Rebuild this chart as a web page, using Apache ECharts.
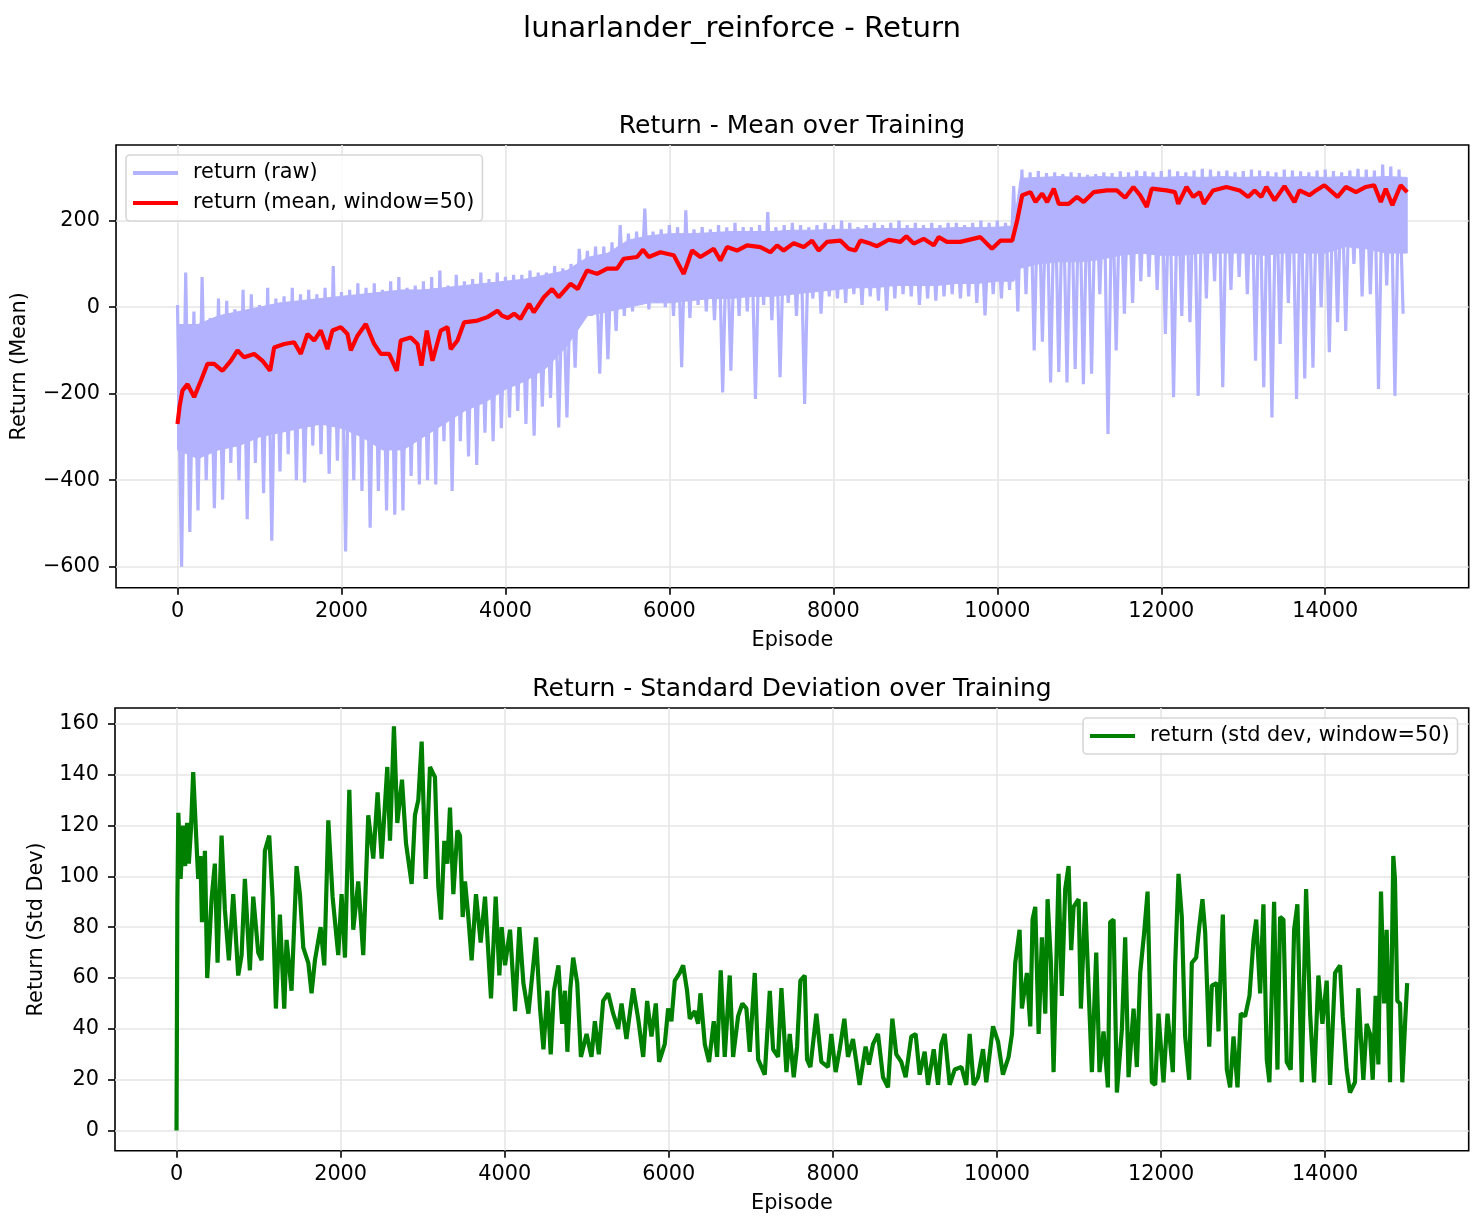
<!DOCTYPE html>
<html>
<head>
<meta charset="utf-8">
<title>lunarlander_reinforce - Return</title>
<script src="https://cdn.jsdelivr.net/npm/echarts@6.0.0/dist/echarts.min.js"></script>
<style>
    html, body { margin: 0; padding: 0; background: #fff; }
    #main { width: 1484px; height: 1229px; }
</style>
</head>
<body>
<div id="main"></div>
<script>
// raw return: per 100-episode bin, the top and bottom of the noise band
var rawStep = 100;
var rawHigh = [
    5, 80, -10, 70, -25, 20, 15, -5, 40, 30,
    5, 45, 20, 25, 45, 30, 40, 30, 45, 95,
    35, 40, 55, 45, 55, 40, 60, 70, 45, 50,
    60, 70, 85, 50, 75, 60, 65, 80, 65, 80,
    70, 75, 75, 85, 80, 80, 95, 90, 100, 135,
    130, 140, 140, 150, 190, 170, 175, 228, 175, 180,
    190, 185, 224, 180, 185, 180, 190, 185, 195, 185,
    185, 190, 220, 185, 190, 195, 190, 185, 190, 195,
    190, 200, 195, 185, 190, 195, 190, 195, 200, 190,
    195, 190, 195, 190, 195, 195, 190, 195, 200, 195,
    200, 195, 280, 318, 312, 315, 310, 312, 308, 312,
    310, 306, 308, 312, 310, 314, 312, 316, 314, 312,
    315, 318, 314, 312, 316, 320, 318, 314, 316, 312,
    315, 318, 316, 314, 312, 318, 316, 314, 312, 316,
    318, 315, 312, 316, 320, 318, 316, 330, 325, 318
];
var rawLow = [
    -600, -520, -470, -400, -465, -445, -360, -400, -490, -360,
    -430, -540, -380, -340, -400, -405, -320, -340, -385, -355,
    -565, -400, -425, -510, -425, -470, -480, -470, -390, -410,
    -400, -410, -310, -425, -310, -345, -365, -290, -310, -280,
    -255, -240, -270, -297, -230, -210, -278, -255, -140, -10,
    -20, -154, -120, -55, -20, -10, 5, -5, 10, 0,
    -20, -139, -25, 5, -10, -30, -197, -147, -20, -10,
    -212, 5, -30, -162, 10, -20, -224, 20, -15, 25,
    20, 10, 30, 5, 25, 15, -8, 20, 30, 25,
    5, 20, 15, 25, 30, 20, 25, 10, -19, 30,
    20, 40, -10, 30, -100, -80, -174, -150, -174, -143,
    -178, -154, 30, -293, -100, -15, 10, 60, 70, 40,
    -62, -208, -20, -35, -205, 20, 60, -185, 40, 70,
    30, -124, -185, -255, -85, 10, -212, -165, -140, 0,
    -104, -35, -55, 100, 25, 30, -189, 50, -205, -15
];

// dense core of the raw band (where the raw line is solid)
var coreEpisodes = [
    0, 250, 500, 750, 1000, 1250, 1500, 1750, 2000, 2250,
    2500, 2750, 3000, 3250, 3500, 3750, 4000, 4250, 4500, 4750,
    5000, 5250, 5500, 5750, 6000, 6250, 6500, 6750, 7000, 7250,
    7500, 7750, 8000, 8250, 8500, 8750, 9000, 9250, 9500, 9750,
    10000, 10200, 10280, 10500, 10750, 11000, 11250, 11500, 11750, 12000,
    12250, 12500, 12750, 13000, 13250, 13500, 13750, 14000, 14250, 14500,
    14750, 15000
];
var coreHigh = [
    -40, -40, -20, -10, 0, 10, 15, 20, 25, 30,
    35, 40, 40, 45, 50, 55, 60, 65, 75, 85,
    115, 125, 155, 165, 170, 170, 172, 175, 175, 175,
    178, 178, 180, 180, 182, 182, 182, 182, 184, 184,
    185, 188, 298, 300, 302, 300, 302, 300, 302, 300,
    302, 300, 302, 300, 302, 300, 302, 300, 302, 300,
    302, 300
];
var coreLow = [
    -330, -350, -330, -320, -300, -290, -280, -270, -280, -300,
    -330, -330, -300, -270, -240, -220, -190, -170, -140, -90,
    -20, -10, 0, 10, 10, 15, 20, 20, 25, 25,
    30, 35, 40, 45, 45, 50, 50, 50, 55, 55,
    60, 60, 90, 100, 105, 105, 110, 120, 125, 120,
    120, 125, 125, 125, 120, 125, 125, 125, 140, 135,
    125, 125
];

// rolling mean (window=50): [episode, value]
var meanPoints = [
    [0, -270], [25, -230], [60, -193], [122, -178], [203, -208], [285, -170], [366, -131], [447, -131],
    [549, -147], [650, -124], [732, -100], [813, -116], [935, -108], [1037, -124], [1130, -147], [1179, -93],
    [1301, -85], [1423, -81], [1504, -108], [1585, -62], [1667, -77], [1748, -54], [1829, -97], [1890, -54],
    [1992, -46], [2073, -62], [2114, -100], [2195, -66], [2297, -39], [2398, -85], [2480, -108], [2581, -108],
    [2675, -147], [2723, -77], [2845, -70], [2927, -85], [2976, -135], [3041, -54], [3110, -124], [3211, -54],
    [3293, -46], [3333, -97], [3415, -77], [3496, -35], [3659, -31], [3781, -23], [3903, -8], [3960, -20],
    [4030, -25], [4106, -15], [4183, -27], [4289, 8], [4346, -12], [4468, 23], [4569, 42], [4650, 23],
    [4793, 54], [4882, 42], [4996, 85], [5118, 77], [5240, 89], [5362, 89], [5443, 112], [5606, 116],
    [5679, 133], [5748, 116], [5890, 127], [6053, 120], [6175, 77], [6276, 131], [6378, 116], [6541, 135],
    [6622, 108], [6703, 139], [6825, 131], [6947, 143], [7110, 139], [7232, 127], [7313, 143], [7394, 131],
    [7516, 148], [7638, 139], [7740, 154], [7821, 131], [7923, 151], [8085, 154], [8187, 135], [8268, 131],
    [8329, 154], [8451, 147], [8532, 141], [8675, 156], [8817, 151], [8890, 164], [8980, 147], [9102, 158],
    [9224, 143], [9285, 162], [9386, 151], [9549, 151], [9793, 162], [9935, 135], [10040, 154], [10182, 154],
    [10243, 201], [10304, 259], [10405, 266], [10466, 243], [10547, 263], [10608, 243], [10689, 274], [10750, 239],
    [10871, 239], [10972, 255], [11053, 243], [11175, 266], [11337, 270], [11458, 270], [11559, 253], [11660, 278],
    [11741, 259], [11823, 232], [11883, 274], [12065, 270], [12166, 266], [12207, 239], [12308, 278], [12389, 255],
    [12470, 266], [12519, 239], [12632, 270], [12794, 278], [12956, 270], [13058, 255], [13139, 270], [13220, 255],
    [13281, 278], [13382, 247], [13503, 280], [13625, 243], [13686, 270], [13807, 259], [13888, 270], [13989, 282],
    [14151, 255], [14252, 278], [14374, 266], [14495, 278], [14597, 282], [14678, 243], [14738, 274], [14819, 236],
    [14920, 282], [15000, 266]
];

// rolling std dev (window=50): [episode, value]
var stdPoints = [
    [0, 0], [10, 90], [22, 125], [50, 99], [80, 120], [105, 104], [130, 121], [150, 105], [175, 118], [203, 141],
    [236, 118], [264, 99], [290, 108], [310, 82], [346, 110], [374, 60], [406, 78], [427, 91], [467, 105], [500, 66],
    [549, 116], [589, 87], [638, 67], [691, 93], [752, 61], [793, 69], [833, 99], [894, 63], [935, 92], [996, 70],
    [1037, 67], [1077, 110], [1130, 116], [1171, 91], [1211, 48], [1260, 85], [1313, 48], [1341, 75], [1402, 55], [1463, 104],
    [1504, 93], [1545, 72], [1606, 66], [1646, 54], [1687, 67], [1756, 80], [1801, 65], [1850, 122], [1902, 92], [1971, 69],
    [2012, 93], [2053, 68], [2106, 134], [2154, 79], [2215, 98], [2276, 69], [2337, 124], [2398, 107], [2451, 133], [2500, 107],
    [2569, 143], [2602, 114], [2650, 159], [2691, 121], [2748, 138], [2797, 113], [2866, 97], [2906, 124], [2947, 130], [2988, 153],
    [3037, 99], [3089, 143], [3150, 139], [3191, 96], [3224, 83], [3264, 114], [3301, 105], [3333, 127], [3374, 93], [3423, 118],
    [3455, 116], [3488, 84], [3516, 98], [3557, 84], [3597, 67], [3650, 93], [3707, 74], [3760, 92], [3833, 52], [3890, 92],
    [3935, 61], [3963, 80], [4004, 65], [4065, 79], [4126, 47], [4179, 80], [4228, 58], [4289, 46], [4382, 76], [4431, 48],
    [4472, 32], [4520, 55], [4561, 30], [4600, 55], [4655, 65], [4700, 42], [4735, 55], [4764, 31], [4800, 56], [4835, 68],
    [4884, 58], [4929, 29], [4998, 38], [5058, 29], [5099, 43], [5147, 30], [5200, 51], [5261, 54], [5322, 46], [5383, 40],
    [5424, 50], [5484, 36], [5566, 56], [5627, 44], [5688, 29], [5736, 51], [5789, 37], [5842, 50], [5882, 27], [5951, 34],
    [5992, 48], [6032, 43], [6073, 59], [6134, 62], [6175, 65], [6223, 55], [6256, 44], [6317, 47], [6357, 42], [6386, 54],
    [6439, 34], [6491, 27], [6548, 43], [6589, 29], [6633, 63], [6682, 29], [6743, 61], [6784, 29], [6845, 45], [6897, 50],
    [6946, 48], [6987, 31], [7048, 62], [7089, 28], [7170, 22], [7231, 55], [7271, 32], [7332, 29], [7373, 56], [7434, 23],
    [7474, 38], [7523, 21], [7564, 33], [7604, 59], [7657, 61], [7685, 28], [7726, 25], [7799, 46], [7860, 27], [7941, 25],
    [7981, 38], [8034, 23], [8083, 32], [8140, 44], [8184, 29], [8245, 36], [8326, 18], [8399, 33], [8440, 26], [8489, 34],
    [8550, 38], [8611, 21], [8672, 17], [8725, 44], [8773, 30], [8834, 27], [8887, 21], [8956, 37], [9009, 38], [9058, 22],
    [9119, 31], [9160, 18], [9229, 32], [9282, 18], [9322, 34], [9363, 38], [9424, 18], [9485, 24], [9567, 25], [9626, 18],
    [9667, 38], [9716, 18], [9769, 21], [9830, 32], [9870, 19], [9952, 41], [10013, 35], [10073, 22], [10142, 29], [10183, 38],
    [10223, 66], [10276, 79], [10304, 48], [10365, 62], [10406, 41], [10434, 83], [10467, 88], [10508, 38], [10548, 76], [10589, 46],
    [10617, 91], [10658, 66], [10690, 23], [10751, 101], [10791, 53], [10832, 95], [10873, 104], [10905, 71], [10934, 88], [10995, 91],
    [11023, 48], [11076, 90], [11129, 46], [11157, 23], [11210, 70], [11250, 23], [11299, 39], [11352, 17], [11380, 82], [11421, 83],
    [11462, 15], [11523, 40], [11563, 76], [11604, 21], [11665, 48], [11705, 25], [11746, 62], [11795, 78], [11836, 94], [11888, 19],
    [11929, 18], [11969, 46], [12030, 19], [12079, 46], [12144, 23], [12172, 65], [12213, 101], [12253, 84], [12294, 37], [12343, 20],
    [12375, 66], [12428, 68], [12465, 80], [12505, 91], [12538, 78], [12587, 33], [12619, 57], [12680, 58], [12700, 39], [12753, 85],
    [12802, 24], [12842, 17], [12883, 37], [12932, 17], [12972, 46], [13025, 45], [13078, 53], [13127, 75], [13160, 83], [13208, 54],
    [13248, 89], [13289, 28], [13321, 19], [13378, 90], [13419, 24], [13451, 84], [13492, 83], [13532, 27], [13581, 24], [13622, 79],
    [13662, 89], [13715, 19], [13768, 95], [13817, 46], [13865, 19], [13918, 61], [13967, 42], [14019, 59], [14060, 18], [14121, 62],
    [14182, 65], [14214, 45], [14263, 24], [14303, 15], [14364, 19], [14405, 56], [14433, 38], [14466, 20], [14506, 42], [14547, 38],
    [14580, 20], [14616, 53], [14649, 26], [14681, 94], [14718, 50], [14750, 79], [14791, 19], [14831, 108], [14851, 99], [14880, 51],
    [14913, 50], [14941, 19], [14974, 42], [15000, 58]
];

var episodeTicks = [0, 2000, 4000, 6000, 8000, 10000, 12000, 14000];
var meanTicks = [-600, -400, -200, 0, 200];
var stdTicks = [0, 20, 40, 60, 80, 100, 120, 140, 160];

// zigzag through the band: top of each bin, then its bottom
var rawPoints = [];
for (var i = 0; i < rawHigh.length; i++) {
    rawPoints.push([i * rawStep, rawHigh[i]]);
    rawPoints.push([i * rawStep + rawStep / 2, rawLow[i]]);
}

var FONT = 'DejaVu Sans';
var RAW_COLOR = '#b2b2ff';

function fmtNum(v) {
    return v < 0 ? '\u2212' + Math.abs(v) : String(v);
}

// polygon of the solid core, mapped through the axis scales
function renderCore(params, api) {
    var pts = [];
    for (var j = 0; j < coreEpisodes.length; j++) {
        pts.push(api.coord([coreEpisodes[j], coreHigh[j]]));
    }
    for (var k = coreEpisodes.length - 1; k >= 0; k--) {
        pts.push(api.coord([coreEpisodes[k], coreLow[k]]));
    }
    return {
        type: 'polygon',
        shape: { points: pts },
        style: { fill: RAW_COLOR, stroke: RAW_COLOR, lineWidth: 1 },
        silent: true
    };
}

function xAxisOf(gridIndex) {
    return {
        type: 'value',
        gridIndex: gridIndex,
        min: -750,
        max: 15750,
        name: 'Episode',
        nameLocation: 'middle',
        nameGap: 41,
        nameTextStyle: { fontFamily: FONT, fontSize: 20.8, color: '#000', lineHeight: 24 },
        axisLine: { show: false, onZero: false },
        axisTick: { show: true, length: 7, customValues: episodeTicks, lineStyle: { color: '#000', width: 1.6 } },
        axisLabel: { customValues: episodeTicks, margin: 12, fontFamily: FONT, fontSize: 20.8, color: '#000', lineHeight: 24, formatter: fmtNum },
        splitLine: { show: true, lineStyle: { color: '#e6e6e6', width: 1.6 } }
    };
}

function yAxisOf(gridIndex, min, max, ticks, label, gap) {
    return {
        type: 'value',
        gridIndex: gridIndex,
        min: min,
        max: max,
        name: label,
        nameLocation: 'middle',
        nameGap: gap,
        nameTextStyle: { fontFamily: FONT, fontSize: 20.8, color: '#000', lineHeight: 24 },
        axisLine: { show: false, onZero: false },
        axisTick: { show: true, length: 7, customValues: ticks, lineStyle: { color: '#000', width: 1.6 } },
        axisLabel: { customValues: ticks, margin: 16, fontFamily: FONT, fontSize: 20.8, color: '#000', lineHeight: 24, formatter: fmtNum },
        splitLine: { show: true, lineStyle: { color: '#e6e6e6', width: 1.6 } }
    };
}

var legendBase = {
    orient: 'vertical',
    selectedMode: false,
    icon: 'rect',
    itemWidth: 45,
    itemHeight: 4,
    itemGap: 6,
    backgroundColor: 'rgba(255,255,255,0.8)',
    borderColor: '#d6d6d6',
    borderWidth: 1.6,
    borderRadius: 4,
    textStyle: { fontFamily: FONT, fontSize: 20.8, color: '#000', lineHeight: 24, padding: [0, 0, 0, 10] }
};

var chart = echarts.init(document.getElementById('main'), null, { renderer: 'canvas' });

var option = {
    backgroundColor: '#fff',
    animation: false,
    graphic: [
        { type: 'text', x: 742, y: 29.5, style: { text: 'lunarlander_reinforce - Return', fontFamily: FONT, fontSize: 29.2, fill: '#000', align: 'center', verticalAlign: 'middle' } },
        { type: 'text', x: 792, y: 126, style: { text: 'Return - Mean over Training', fontFamily: FONT, fontSize: 25, fill: '#000', align: 'center', verticalAlign: 'middle' } },
        { type: 'text', x: 792, y: 689, style: { text: 'Return - Standard Deviation over Training', fontFamily: FONT, fontSize: 25, fill: '#000', align: 'center', verticalAlign: 'middle' } }
    ],
    grid: [
        { left: 115, top: 145, width: 1353.7, height: 442.7, show: true, borderColor: '#000', borderWidth: 1.6, backgroundColor: 'transparent' },
        { left: 115, top: 708, width: 1353.7, height: 442.7, show: true, borderColor: '#000', borderWidth: 1.6, backgroundColor: 'transparent' }
    ],
    xAxis: [xAxisOf(0), xAxisOf(1)],
    yAxis: [
        yAxisOf(0, -648.6, 375, meanTicks, 'Return (Mean)', 79),
        yAxisOf(1, -7.9, 166.2, stdTicks, 'Return (Std Dev)', 62)
    ],
    legend: [
        Object.assign({}, legendBase, {
            left: 126, top: 155,
            padding: [6, 8, 6, 7],
            data: [
                { name: 'return (raw)', itemStyle: { color: RAW_COLOR } },
                { name: 'return (mean, window=50)', itemStyle: { color: '#ff0000' } }
            ]
        }),
        Object.assign({}, legendBase, {
            left: 1083, top: 718,
            padding: [6, 8, 6, 7],
            data: [
                { name: 'return (std dev, window=50)', itemStyle: { color: '#008000' } }
            ]
        })
    ],
    series: [
        {
            name: 'raw core',
            type: 'custom',
            xAxisIndex: 0, yAxisIndex: 0,
            renderItem: renderCore,
            data: [[0, coreLow[0]]],
            silent: true,
            z: 1
        },
        {
            name: 'return (raw)',
            type: 'line',
            xAxisIndex: 0, yAxisIndex: 0,
            data: rawPoints,
            showSymbol: false,
            symbol: 'none',
            lineStyle: { color: RAW_COLOR, width: 3.2 },
            itemStyle: { color: RAW_COLOR },
            z: 2
        },
        {
            name: 'return (mean, window=50)',
            type: 'line',
            xAxisIndex: 0, yAxisIndex: 0,
            data: meanPoints,
            showSymbol: false,
            symbol: 'none',
            lineStyle: { color: '#ff0000', width: 4.2 },
            itemStyle: { color: '#ff0000' },
            z: 3
        },
        {
            name: 'return (std dev, window=50)',
            type: 'line',
            xAxisIndex: 1, yAxisIndex: 1,
            data: stdPoints,
            showSymbol: false,
            symbol: 'none',
            lineStyle: { color: '#008000', width: 4.2 },
            itemStyle: { color: '#008000' },
            z: 3
        }
    ]
};

chart.setOption(option);
</script>
</body>
</html>
